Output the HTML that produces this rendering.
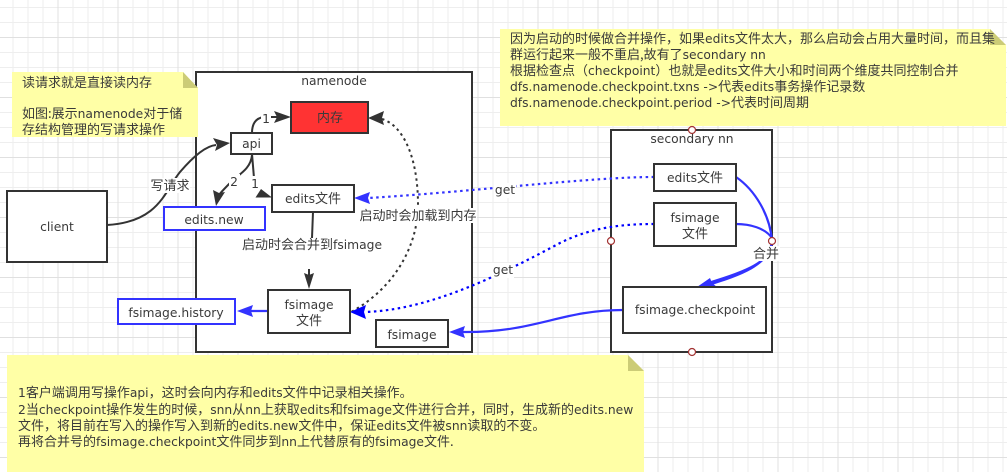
<!DOCTYPE html>
<html><head><meta charset="utf-8"><style>
html,body{margin:0;padding:0;background:#fff}
svg{display:block}
text{font-family:"DejaVu Sans","Noto Sans CJK SC",sans-serif;font-size:13px;fill:#3a3a3a}
.c{font-family:"Noto Sans CJK SC","DejaVu Sans",sans-serif}
.m{text-anchor:middle}
tspan.l{font-family:"DejaVu Sans",sans-serif;font-size:12.3px}
.b{fill:#fff;stroke:#333;stroke-width:2}
.bl{fill:#fff;stroke:#3333ff;stroke-width:2}
.n{fill:#ffffa6}
.f{fill:#cccc77}
.e{fill:none;stroke:#333;stroke-width:2}
.eb{fill:none;stroke:#3333ff;stroke-width:2.2}
.d{stroke-dasharray:2.5 3.5}
.o{fill:#fff;stroke:#a33333;stroke-width:1.2}
</style></head><body>
<svg width="1007" height="472" viewBox="0 0 1007 472" xmlns="http://www.w3.org/2000/svg">
<defs>
<pattern id="g" x="57.5" y="37" width="60" height="60" patternUnits="userSpaceOnUse">
<path d="M15.5 0V60M30.5 0V60M45.5 0V60M0 15.5H60M0 30.5H60M0 45.5H60" stroke="#eeeeee" stroke-width="1" fill="none"/>
<path d="M.5 0V60M0 .5H60" stroke="#e0e0e0" stroke-width="1" fill="none"/>
</pattern>
</defs>
<rect width="1007" height="472" fill="url(#g)"/>

<!-- containers -->
<rect class="b" x="196" y="72" width="276" height="280"/>
<rect class="b" x="611" y="130" width="161" height="222"/>
<text class="m" x="334" y="85"><tspan class="l">namenode</tspan></text>
<text class="m" x="692" y="143"><tspan class="l">secondary nn</tspan></text>

<!-- notes -->
<path class="n" d="M12 72H183L198 88V137H12Z"/>
<path class="f" d="M183 72L198 88H183Z"/>
<path class="n" d="M500 29H990L1006 45V126H500Z"/>
<path class="f" d="M990 29L1006 45H990Z"/>
<path class="n" d="M7 355H628L644 371V472H7Z"/>
<path class="f" d="M628 355L644 371H628Z"/>

<text class="c" x="22" y="87">读请求就是直接读内存</text>
<text class="c" x="22" y="118">如图:展示<tspan class="l">namenode</tspan>对于储</text>
<text class="c" x="22" y="134">存结构管理的写请求操作</text>

<text class="c" x="510" y="43">因为启动的时候做合并操作，如果<tspan class="l">edits</tspan>文件太大，那么启动会占用大量时间，而且集</text>
<text class="c" x="510" y="59">群运行起来一般不重启,故有了<tspan class="l">secondary nn</tspan></text>
<text class="c" x="510" y="75">根据检查点（<tspan class="l">checkpoint</tspan>）也就是<tspan class="l">edits</tspan>文件大小和时间两个维度共同控制合并</text>
<text class="c" x="510" y="91"><tspan class="l">dfs.namenode.checkpoint.txns -&gt;</tspan>代表<tspan class="l">edits</tspan>事务操作记录数</text>
<text class="c" x="510" y="107"><tspan class="l">dfs.namenode.checkpoint.period -&gt;</tspan>代表时间周期</text>

<text class="c" x="18" y="397"><tspan class="l">1</tspan>客户端调用写操作<tspan class="l">api</tspan>，这时会向内存和<tspan class="l">edits</tspan>文件中记录相关操作。</text>
<text class="c" x="18" y="414"><tspan class="l">2</tspan>当<tspan class="l">checkpoint</tspan>操作发生的时候，<tspan class="l">snn</tspan>从<tspan class="l">nn</tspan>上获取<tspan class="l">edits</tspan>和<tspan class="l">fsimage</tspan>文件进行合并，同时，生成新的<tspan class="l">edits.new</tspan></text>
<text class="c" x="18" y="430">文件，将目前在写入的操作写入到新的<tspan class="l">edits.new</tspan>文件中，保证<tspan class="l">edits</tspan>文件被<tspan class="l">snn</tspan>读取的不变。</text>
<text class="c" x="18" y="446">再将合并号的<tspan class="l">fsimage.checkpoint</tspan>文件同步到<tspan class="l">nn</tspan>上代替原有的<tspan class="l">fsimage</tspan>文件.</text>

<!-- edges -->
<path class="e" d="M107 225C160 222 165 190 180 172C192 158 205 146 216 145"/>
<polygon fill="#333" points="230,143 215,151 217,145 213,138"/>
<path class="e" d="M252 133C252 123 256 118 264 117H277"/>
<polygon fill="#333" points="291,117 274,123 277,117 274,111"/>
<path class="e" d="M252 155C251 168 240 174 233 180C226 187 221 192 219 195"/>
<polygon fill="#333" points="216,206 213,190 219,193 225,192"/>
<path class="e" d="M252 154L254 178"/>
<polygon fill="#333" points="272,197.500 255.500,197.500 261,189"/>
<path class="e" d="M313 212L312 238M309 269V276"/>
<polygon fill="#333" points="309,289 304,273 309,275 314,273"/>

<path class="e d" d="M382 119C402 125 418 155 418 205C418 245 395 288 351 312"/>
<polygon fill="#333" points="368,118 384,111 382,118 384,125"/>

<path class="eb" d="M268 311H250"/>
<polygon fill="#3333ff" points="237,311 253,305 251,311 253,317"/>
<path class="eb" d="M623 310C560 310 535 333 462 332"/>
<polygon fill="#3333ff" points="449,332 465,326 463,332 465,338"/>
<path class="eb d" d="M654 177C590 177 470 192 368 198"/>
<polygon fill="#3333ff" points="354,198 370,192 368,198 370,204"/>
<path d="M654 224C620 224 590 228 560 243C500 275 430 310 365 312" fill="none" stroke="#0000ff" stroke-width="2.200" stroke-dasharray="2.500 3.500"/>
<polygon fill="#0000ff" points="350,312 366,305 364,312 366,319"/>

<path class="eb" d="M736 177C755 190 770 215 772 241"/>
<path class="eb" d="M736 224C750 224 765 228 772 238"/>
<path class="eb" d="M772 241C772 262 745 272 708 283"/>
<path class="eb" d="M772 241C770 265 740 275 708 285"/>
<polygon fill="#3333ff" points="697,287 710,278 712,283 717,287"/>

<!-- nodes -->
<rect class="b" x="7" y="191" width="100" height="71"/>
<text class="m" x="57" y="231"><tspan class="l">client</tspan></text>
<rect x="291" y="102" width="77" height="31" fill="#ff3333" stroke="#333" stroke-width="2"/>
<text class="m c" x="330" y="122">内存</text>
<rect class="b" x="231" y="133" width="41" height="21"/>
<text class="m" x="251.500" y="148"><tspan class="l">api</tspan></text>
<rect class="b" x="272" y="185" width="82" height="27"/>
<text class="m c" x="313" y="203"><tspan class="l">edits</tspan>文件</text>
<rect class="b" x="268" y="290" width="82" height="43"/>
<text class="m" x="309" y="309"><tspan class="l">fsimage</tspan></text>
<text class="m c" x="309" y="325">文件</text>
<rect class="b" x="376" y="320" width="72" height="27"/>
<text class="m" x="412" y="339"><tspan class="l">fsimage</tspan></text>
<rect class="bl" x="164" y="207" width="101" height="23"/>
<text class="m" x="214" y="224"><tspan class="l">edits.new</tspan></text>
<rect class="bl" x="118" y="299" width="117" height="25"/>
<text class="m" x="176" y="317"><tspan class="l">fsimage.history</tspan></text>
<rect class="b" x="654" y="164" width="82" height="27"/>
<text class="m c" x="695" y="182"><tspan class="l">edits</tspan>文件</text>
<rect class="b" x="654" y="203" width="82" height="43"/>
<text class="m" x="695" y="222"><tspan class="l">fsimage</tspan></text>
<text class="m c" x="695" y="238">文件</text>
<rect class="b" x="623" y="287" width="143" height="46"/>
<text class="m" x="695" y="314"><tspan class="l">fsimage.checkpoint</tspan></text>

<!-- connection points -->
<circle class="o" cx="692" cy="130" r="3.500"/>
<circle class="o" cx="611" cy="241" r="3.500"/>
<circle class="o" cx="772" cy="241" r="3.500"/>
<circle class="o" cx="692" cy="352" r="3.500"/>

<!-- edge labels -->
<g fill="#fff">
<rect x="149" y="178" width="41" height="15"/>
<rect x="229" y="174" width="11" height="14"/>
<rect x="250" y="176" width="10" height="14"/>
<rect x="261" y="111" width="10" height="14"/>
<rect x="241" y="238" width="142" height="15"/>
<rect x="359" y="208" width="118" height="15"/>
<rect x="494" y="183" width="22" height="15"/>
<rect x="492" y="263" width="22" height="15"/>
<rect x="753" y="246" width="27" height="15"/>
</g>
<text class="m c" x="170" y="190">写请求</text>
<text class="m" x="234" y="186"><tspan class="l">2</tspan></text>
<text class="m" x="255" y="188"><tspan class="l">1</tspan></text>
<text class="m" x="266" y="123"><tspan class="l">1</tspan></text>
<text class="m c" x="312" y="249">启动时会合并到<tspan class="l">fsimage</tspan></text>
<text class="m c" x="418" y="220">启动时会加载到内存</text>
<text class="m" x="505" y="194"><tspan class="l">get</tspan></text>
<text class="m" x="503" y="274"><tspan class="l">get</tspan></text>
<text class="m c" x="766" y="258">合并</text>
</svg>
</body></html>
